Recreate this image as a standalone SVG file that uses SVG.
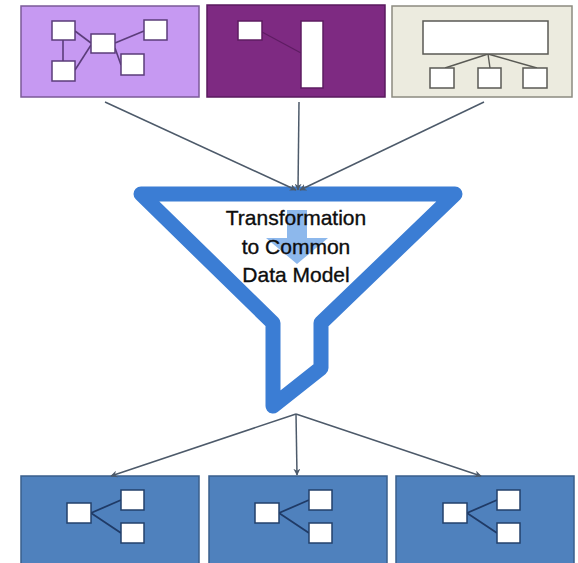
<svg xmlns="http://www.w3.org/2000/svg" width="578" height="563" viewBox="0 0 578 563">
<defs>
<style>
.conn{stroke:#4d5a6a;stroke-width:1.5;fill:none;marker-end:url(#ah)}
.wb{fill:#ffffff;stroke-width:1.5}
.lbl{font-family:"Liberation Sans",Arial,sans-serif;font-size:21px;fill:#0d0d0d;stroke:#0d0d0d;stroke-width:0.35;text-anchor:middle}
.bb{fill:#4f81bd;stroke:#3a5f8c;stroke-width:1.5}
.bi{fill:#fff;stroke:#23406b;stroke-width:1.5}
.bl{stroke:#1f3a66;stroke-width:1.8;fill:none}
</style>
<marker id="ah" viewBox="0 0 10 10" refX="9" refY="5" markerWidth="7" markerHeight="7" orient="auto" markerUnits="userSpaceOnUse">
<path d="M0,0 L10,5 L0,10 L3,5 z" fill="#4d5a6a"/>
</marker>
</defs>
<rect width="578" height="563" fill="#ffffff"/>

<g id="source1">
<rect x="21" y="6" width="178" height="91" fill="#c699f2" stroke="#7b5a98" stroke-width="1.5"/>
<g stroke="#5b3d7a" stroke-width="1.6" fill="none">
<line x1="75" y1="31" x2="91" y2="43"/>
<line x1="63" y1="40" x2="63" y2="61"/>
<line x1="75" y1="70" x2="91" y2="45"/>
<line x1="115" y1="43" x2="144" y2="31"/>
<line x1="115" y1="48" x2="121" y2="65"/>
</g>
<g class="wb" stroke="#5b3d7a">
<rect x="52" y="21" width="23" height="19"/>
<rect x="91" y="34" width="24" height="19"/>
<rect x="144" y="20" width="23" height="20"/>
<rect x="52" y="61" width="23" height="20"/>
<rect x="121" y="54" width="23" height="21"/>
</g>
</g>

<g id="source2">
<rect x="207" y="5" width="178" height="92" fill="#7e2a82" stroke="#5a1a5e" stroke-width="1.5"/>
<line x1="262" y1="32" x2="301" y2="53" stroke="#5e1c62" stroke-width="1.2"/>
<g class="wb" stroke="#5e1c62">
<rect x="238" y="21" width="24" height="19"/>
<rect x="301" y="21" width="22" height="67"/>
</g>
</g>

<g id="source3">
<rect x="392" y="6" width="180" height="91" fill="#ecebdf" stroke="#8c8b80" stroke-width="1.5"/>
<g stroke="#5a5a55" stroke-width="1.4" fill="none">
<line x1="488" y1="54" x2="445" y2="68"/>
<line x1="488" y1="54" x2="490" y2="68"/>
<line x1="488" y1="54" x2="537" y2="68"/>
</g>
<g class="wb" stroke="#5a5a55">
<rect x="423" y="21" width="125" height="33"/>
<rect x="430" y="68" width="24" height="20"/>
<rect x="478" y="68" width="23" height="20"/>
<rect x="523" y="68" width="24" height="20"/>
</g>
</g>

<g id="funnel">
<path d="M287,210 L307,210 L307,238 L328,238 L297,264 L266,238 L287,238 Z" fill="#8db8ec"/>
<path d="M141,194 L455,194 L321,323 L321,368 L273,406 L273,323 Z" fill="none" stroke="#3b7dd4" stroke-width="15" stroke-linejoin="round" stroke-linecap="round"/>
<text class="lbl" x="296" y="225">Transformation</text>
<text class="lbl" x="296" y="254">to Common</text>
<text class="lbl" x="296" y="282">Data Model</text>
</g>

<g id="target1">
<rect x="21" y="476" width="178" height="92" class="bb"/>
<path d="M91,513 L121,500 M91,513 L121,533" class="bl"/>
<rect x="67" y="503" width="24" height="20" class="bi"/>
<rect x="121" y="490" width="23" height="20" class="bi"/>
<rect x="121" y="523" width="23" height="20" class="bi"/>
</g>

<g id="target2">
<rect x="209" y="476" width="178" height="92" class="bb"/>
<path d="M279,513 L309,500 M279,513 L309,533" class="bl"/>
<rect x="255" y="503" width="24" height="20" class="bi"/>
<rect x="309" y="490" width="23" height="20" class="bi"/>
<rect x="309" y="523" width="23" height="20" class="bi"/>
</g>

<g id="target3">
<rect x="396" y="476" width="178" height="92" class="bb"/>
<path d="M467,513 L497,500 M467,513 L497,533" class="bl"/>
<rect x="443" y="503" width="24" height="20" class="bi"/>
<rect x="497" y="490" width="23" height="20" class="bi"/>
<rect x="497" y="523" width="23" height="20" class="bi"/>
</g>

<g id="connectors">
<line class="conn" x1="105" y1="102" x2="296" y2="190"/>
<line class="conn" x1="299" y1="102" x2="298" y2="190"/>
<line class="conn" x1="484" y1="102" x2="300" y2="190"/>
<line class="conn" x1="296" y1="414" x2="111" y2="476"/>
<line class="conn" x1="296" y1="414" x2="297" y2="475"/>
<line class="conn" x1="296" y1="414" x2="481" y2="476"/>
</g>
</svg>
